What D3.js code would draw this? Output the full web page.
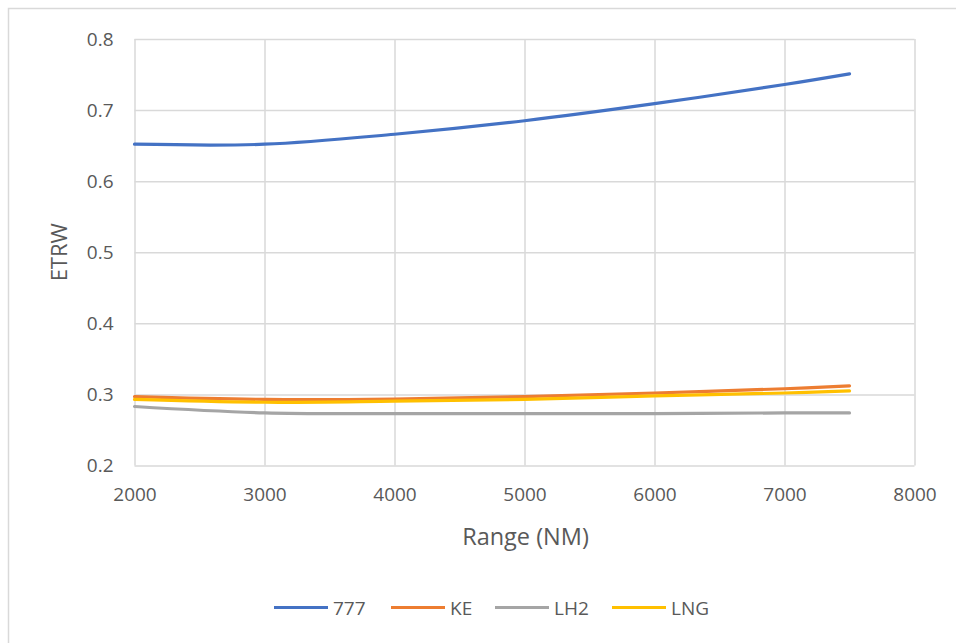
<!DOCTYPE html>
<html><head><meta charset="utf-8">
<script src="https://cdn.jsdelivr.net/npm/d3@7"></script>
<style>body{margin:0;background:#fff;} text{font-family:"Open Sans",sans-serif;fill:#595959;}</style>
</head><body><svg id="c" width="956" height="643"></svg>
<script>
const ranges = [2000, 3000, 4000, 5000, 6000, 7000, 7500];
const s777 = [0.652, 0.652, 0.666, 0.685, 0.709, 0.736, 0.751];
const sKE  = [0.297, 0.293, 0.2935, 0.297, 0.302, 0.308, 0.312];
const sLH2 = [0.283, 0.274, 0.273, 0.273, 0.273, 0.274, 0.274];
const sLNG = [0.293, 0.289, 0.2905, 0.293, 0.298, 0.302, 0.305];
const seriesNames = ["777", "KE", "LH2", "LNG"];
const seriesColors = ["#4472C4", "#ED7D31", "#A5A5A5", "#FFC000"];
const xTicks = [2000, 3000, 4000, 5000, 6000, 7000, 8000];
const yTicks = [0.2, 0.3, 0.4, 0.5, 0.6, 0.7, 0.8];

const svg = d3.select("#c");
svg.append("rect").attr("x",8.5).attr("y",8.5).attr("width",960).attr("height",660)
  .attr("fill","#fff").attr("stroke","#d9d9d9").attr("stroke-width",1.5);

const L=134.5, R=914.5, T=39, B=465.5;
const x = d3.scaleLinear().domain([2000,8000]).range([L,R]);
const y = d3.scaleLinear().domain([0.2,0.8]).range([B,T]);

svg.append("g").attr("transform",`translate(0,${B})`)
  .call(d3.axisBottom(x).tickValues(xTicks).tickSize(-(B-T)).tickFormat(d=>d).tickPadding(22))
  .call(g=>g.select(".domain").remove())
  .call(g=>g.selectAll("line").attr("stroke","#d9d9d9").attr("stroke-width",1.5))
  .call(g=>g.selectAll("text").attr("font-size",19).attr("fill","#595959").attr("font-family","Open Sans"));
svg.append("g").attr("transform",`translate(${L},0)`)
  .call(d3.axisLeft(y).tickValues(yTicks).tickSize(-(R-L)).tickFormat(d3.format(".1f")).tickPadding(21))
  .call(g=>g.select(".domain").remove())
  .call(g=>g.selectAll("line").attr("stroke","#d9d9d9").attr("stroke-width",1.5))
  .call(g=>g.selectAll("text").attr("font-size",19).attr("fill","#595959").attr("font-family","Open Sans"));

const all = [s777, sKE, sLH2, sLNG];
const line = d3.line().x((d,i)=>x(ranges[i])).y(d=>y(d)).curve(d3.curveCatmullRom.alpha(0.5));
all.forEach((s,k)=>{
  svg.append("path").attr("d",line(s)).attr("fill","none")
    .attr("stroke",seriesColors[k]).attr("stroke-width",3.2).attr("stroke-linecap","round");
});

svg.append("text").attr("x",(L+R)/2+1).attr("y",545).attr("text-anchor","middle")
  .attr("font-size",23.5).text("Range (NM)");
svg.append("text").attr("transform",`translate(67,${(T+B)/2}) rotate(-90)`).attr("text-anchor","middle")
  .attr("font-size",22).text("ETRW");

const legX = [274, 391, 495, 612];
seriesNames.forEach((n,k)=>{
  svg.append("line").attr("x1",legX[k]).attr("x2",legX[k]+54).attr("y1",607.5).attr("y2",607.5)
    .attr("stroke",seriesColors[k]).attr("stroke-width",3);
  svg.append("text").attr("x",legX[k]+59).attr("y",614.5).attr("font-size",19).text(n);
});
</script></body></html>
